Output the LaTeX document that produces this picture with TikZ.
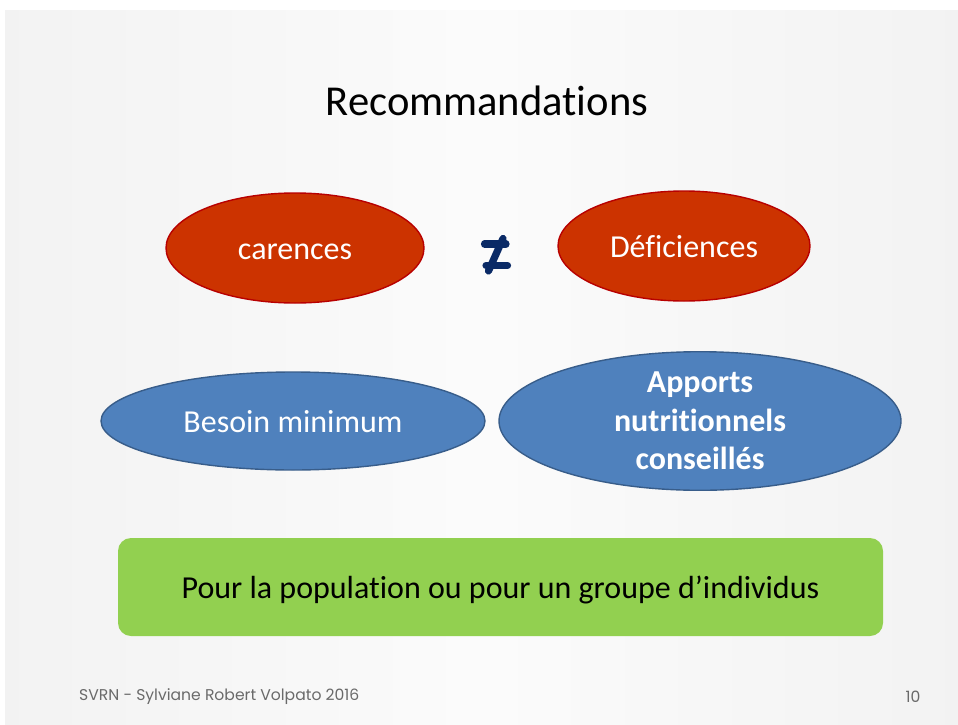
\documentclass[tikz,border=0pt]{standalone}
\usepackage{fontspec}
\setmainfont{Carlito}[RawFeature={-liga;-clig;-calt}]
\newfontfamily\footfont{Poppins}
\usetikzlibrary{shapes.geometric}

\definecolor{slidegray}{HTML}{D9D9D9}
\definecolor{redfill}{HTML}{CC3300}
\definecolor{redline}{HTML}{B80000}
\definecolor{bluefill}{HTML}{4F81BD}
\definecolor{blueline}{HTML}{385D8A}
\definecolor{greenfill}{HTML}{92D050}
\definecolor{navy}{HTML}{0A2A66}
\definecolor{footgray}{HTML}{6A6A6A}

\pgfdeclarehorizontalshading{slidebg}{100bp}{%
  color(0bp)=(slidegray);
  color(8bp)=(black!11);
  color(25bp)=(black!5);
  color(50bp)=(black!1.5);
  color(75bp)=(black!5);
  color(92bp)=(black!11);
  color(100bp)=(slidegray)}

\tikzset{
  bodytext/.style={font=\fontsize{32}{38.4}\selectfont},
  oneline/.style={text height=25.6pt, text depth=3.5pt},
  redoval/.style={ellipse, draw=redline, line width=1.4pt, fill=redfill,
    text=white, inner sep=0pt, bodytext, oneline},
  blueoval/.style={ellipse, draw=blueline, line width=1.4pt, fill=bluefill,
    text=white, inner sep=0pt, align=center, bodytext},
  notebox/.style={rounded corners=13pt, fill=greenfill, inner sep=0pt,
    bodytext, oneline},
  neqbar/.style={draw=navy, line width=7.2pt, line cap=round},
  footer/.style={text=footgray, inner sep=0pt, font=\footfont\fontsize{15.6}{18}\selectfont}
}

\begin{document}
\begin{tikzpicture}[x=1pt, y=-1pt]
  % page and slide background
  \useasboundingbox (0,0) rectangle (958,725);
  \fill[white] (0,0) rectangle (958,725);
  \shade[shading=slidebg] (5,11) rectangle (958,725);

  % title
  \node[inner sep=0pt, font=\fontsize{42.6}{50}\selectfont] (title) at (487,101) {Recommandations};

  % first row
  \node[redoval, minimum width=258pt, minimum height=110pt] (carences) at (295,248) {carences};
  \node[redoval, minimum width=252pt, minimum height=110pt] (deficiences) at (684,246) {Déficiences};

  % "not equal" sign between the two ovals
  \coordinate (neqA1) at (484.5,244);
  \coordinate (neqA2) at (506,244);
  \coordinate (neqB1) at (486,265.5);
  \coordinate (neqB2) at (507.5,265.5);
  \coordinate (neqS1) at (503,238.5);
  \coordinate (neqS2) at (488.5,271);
  \draw[neqbar] (neqA1) -- (neqA2);
  \draw[neqbar] (neqB1) -- (neqB2);
  \draw[neqbar] (neqS1) -- (neqS2);

  % second row
  \node[blueoval, minimum width=384pt, minimum height=98pt, oneline] (besoin) at (293,421) {Besoin minimum};
  \node[blueoval, minimum width=402pt, minimum height=115pt, font=\bfseries\fontsize{32}{38.5}\selectfont]
    (apports) at (700,421) {Apports\\nutritionnels\\conseillés};

  % note box
  \node[notebox, minimum width=765pt, minimum height=98pt] (note) at (500.5,587) {Pour la population ou pour un groupe d’individus};

  % footer
  \node[footer, anchor=west] (author) at (79,697) {SVRN - Sylviane Robert Volpato 2016};
  \node[footer] (pagenum) at (913,697) {10};
\end{tikzpicture}
\end{document}
